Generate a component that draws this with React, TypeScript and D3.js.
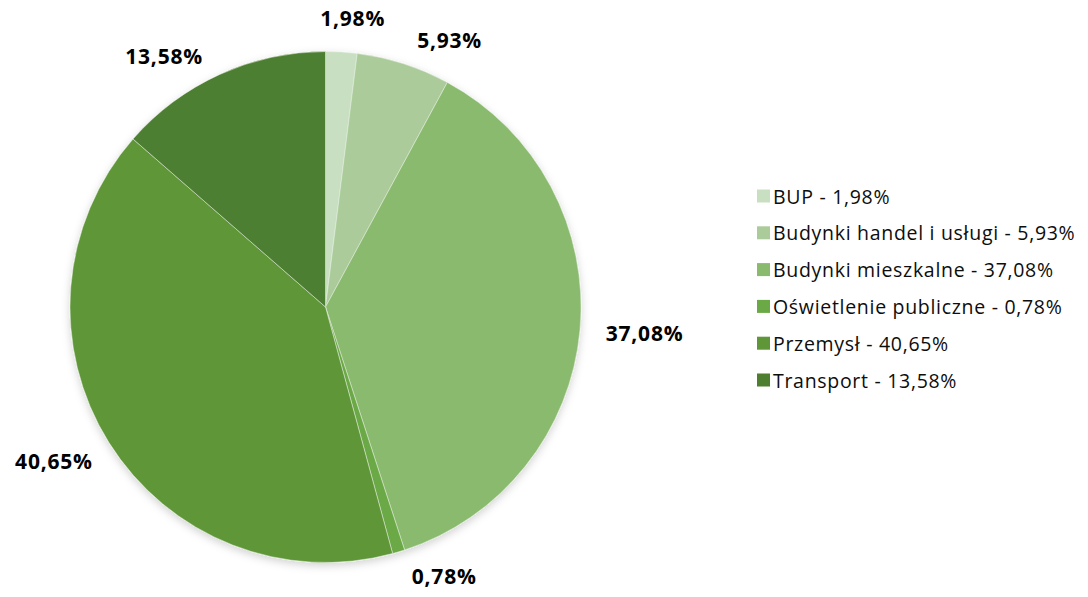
import React from "react";
import * as d3 from "d3";

const categories = [
  "BUP",
  "Budynki handel i usługi",
  "Budynki mieszkalne",
  "Oświetlenie publiczne",
  "Przemysł",
  "Transport",
];
const values = [1.98, 5.93, 37.08, 0.78, 40.65, 13.58];
const colors = ["#c9dfc2", "#abcc9a", "#8aba6e", "#6aa945", "#5e9638", "#4e7f31"];
// angular nudge (degrees) applied to outside labels, as in the reference layout
const labelShiftDeg = [1.4, 5.5, 0, -5.6, 0, -5.8];

const W = 1088;
const H = 597;
const cx = 325.5;
const cy = 307;
const R = 255.5;

const fmt = (v: number) => v.toFixed(2).replace(".", ",") + "%";

export default function App() {
  const pie = d3
    .pie<number>()
    .sort(null)
    .value((d) => d)
    .startAngle(0)
    .endAngle(2 * Math.PI);
  const arcs = pie(values);
  const arc = d3.arc<d3.PieArcDatum<number>>().innerRadius(0).outerRadius(R);

  const labelW = (s: string) => s.length * 13.3;
  const labelH = 20;
  const gap = 25;

  const legendX = 757;
  const legendY0 = 196;
  const legendStep = 36.8;
  const font = "'Open Sans', sans-serif";

  return (
    <svg
      width={W}
      height={H}
      style={{ position: "absolute", left: 0, top: 0, background: "#fff" }}
      fontFamily={font}
    >
      <defs>
        <filter id="sh" x="-20%" y="-20%" width="140%" height="140%">
          <feDropShadow dx="0" dy="3" stdDeviation="4" floodColor="#000" floodOpacity="0.18" />
        </filter>
      </defs>
      <g transform={`translate(${cx},${cy})`}>
        <g filter="url(#sh)">
          {arcs.map((a, i) => (
            <path key={i} d={arc(a) || ""} fill={colors[i]} stroke="#e8f0e4" strokeWidth={0.5} />
          ))}
        </g>
        {arcs.map((a, i) => {
          const mid = (a.startAngle + a.endAngle) / 2 + (labelShiftDeg[i] * Math.PI) / 180;
          const s = Math.sin(mid);
          const c = -Math.cos(mid);
          const t = fmt(values[i]);
          const x = (R + gap) * s + (labelW(t) / 2) * s;
          const y = (R + gap) * c + (labelH / 2) * c;
          return (
            <text
              key={i}
              x={x}
              y={y}
              textAnchor="middle"
              dominantBaseline="central"
              fontSize={21}
              letterSpacing={0.8}
              fontWeight="bold"
              fill="#000"
            >
              {t}
            </text>
          );
        })}
      </g>
      {categories.map((c, i) => (
        <g key={c} transform={`translate(${legendX},${legendY0 + i * legendStep})`}>
          <rect x={0} y={-6.5} width={13} height={13} fill={colors[i]} />
          <text
            x={16}
            y={0}
            dominantBaseline="central"
            fontSize={19.5}
            letterSpacing={0.7}
            fill="#0d0d0d"
          >
            {`${c} - ${fmt(values[i])}`}
          </text>
        </g>
      ))}
    </svg>
  );
}
